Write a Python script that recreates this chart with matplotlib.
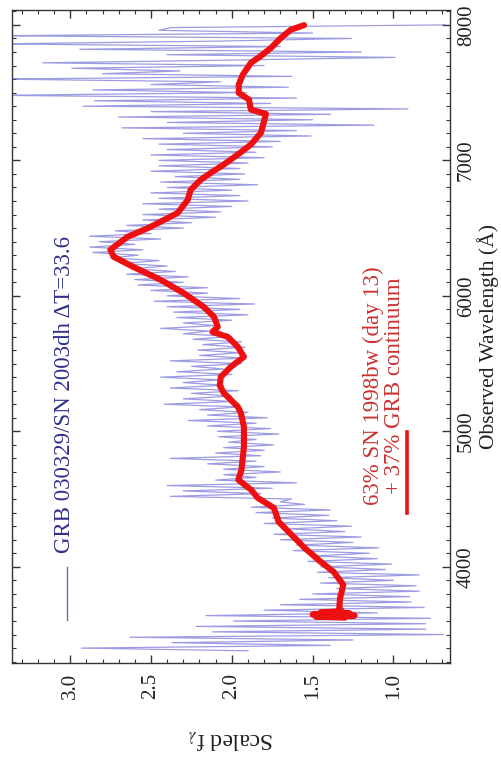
import numpy as np
import matplotlib
matplotlib.use("Agg")
import matplotlib.pyplot as plt
from matplotlib.ticker import MultipleLocator

plt.rcParams['font.family'] = ['Liberation Serif', 'DejaVu Serif']
plt.rcParams['mathtext.fontset'] = 'stix'

# Observed spectrum of GRB 030329 / SN 2003dh (20 A sampling)
obs_wave = np.arange(3380, 8001, 20)
obs_flux = [
    1.90, 2.93, 1.39, 2.37, 1.25, 2.63, 0.69, 2.12, 0.80, 2.22,
    0.80, 1.99, 0.77, 2.16, 1.10, 1.80, 0.81, 1.70, 0.89, 1.58,
    0.90, 1.50, 0.84, 1.35, 0.86, 1.45, 1.00, 1.40, 0.84, 1.47,
    1.05, 1.45, 1.01, 1.53, 1.10, 1.50, 1.15, 1.62, 1.09, 1.60,
    1.25, 1.70, 1.20, 1.74, 1.30, 1.65, 1.26, 1.80, 1.35, 1.75,
    1.40, 1.85, 1.39, 1.88, 1.55, 1.70, 1.63, 2.38, 1.82, 2.30,
    1.75, 2.40, 1.60, 2.10, 1.85, 2.05, 1.70, 2.05, 1.80, 2.15,
    1.85, 2.38, 1.82, 2.10, 1.80, 2.05, 1.74, 2.02, 1.85, 2.08,
    1.71, 2.09, 1.76, 2.15, 1.85, 2.27, 1.78, 2.15, 1.90, 2.20,
    1.95, 2.42, 1.99, 2.30, 2.00, 2.25, 1.96, 2.38, 2.05, 2.30,
    2.07, 2.44, 2.00, 2.34, 2.05, 2.25, 1.94, 2.38, 1.92, 2.20,
    1.95, 2.21, 1.92, 2.18, 1.94, 2.24, 2.00, 2.30, 2.14, 2.44,
    2.10, 2.30, 2.00, 2.34, 1.90, 2.36, 1.95, 2.40, 1.86, 2.48,
    1.95, 2.40, 2.15, 2.50, 2.15, 2.58, 2.30, 2.60, 2.27, 2.65,
    2.35, 2.62, 2.40, 2.69, 2.45, 2.75, 2.58, 2.86, 2.55, 2.88,
    2.60, 2.82, 2.44, 2.88, 2.50, 2.72, 2.30, 2.65, 2.25, 2.55,
    2.10, 2.55, 2.07, 2.45, 2.00, 2.55, 1.90, 2.45, 1.95, 2.50,
    2.00, 2.40, 1.84, 2.44, 1.95, 2.35, 1.92, 2.50, 1.95, 2.45,
    1.90, 2.45, 1.80, 2.50, 1.85, 2.40, 1.75, 2.45, 1.70, 2.55,
    1.51, 2.30, 1.60, 2.68, 1.12, 2.40, 1.50, 2.70, 1.39, 2.50,
    0.91, 2.92, 1.76, 2.85, 1.60, 3.45, 1.91, 2.86, 1.65, 2.50,
    2.07, 3.45, 1.63, 2.80, 2.32, 2.99, 1.80, 3.17, 2.01, 0.99,
    2.40, 1.20, 2.94, 1.70, 3.45, 2.10, 1.26, 3.45, 1.50, 2.45,
    2.38, 0.68,
]

# Model: 63% SN 1998bw (day 13) + 37% GRB continuum
model_wave = [3625, 3632, 3640, 3648, 3656, 3664, 3672, 3700, 3771, 3867,
              3963, 4037, 4140, 4236, 4332, 4435, 4509, 4568, 4642, 4716,
              4886, 5033, 5137, 5181, 5232, 5284, 5340, 5402, 5476, 5550,
              5624, 5697, 5734, 5771, 5845, 5919, 6022, 6118, 6214, 6288,
              6340, 6435, 6509, 6612, 6708, 6782, 6856, 6908, 6969, 7043,
              7117, 7203, 7291, 7343, 7375, 7449, 7498, 7559, 7633, 7720,
              7771, 7830, 7904, 7965, 7998]
model_flux = [1.30, 1.48, 1.24, 1.50, 1.27, 1.45, 1.32, 1.335, 1.33, 1.31,
              1.37, 1.45, 1.55, 1.63, 1.71, 1.74, 1.84, 1.88, 1.96, 1.94,
              1.925, 1.925, 1.944, 1.963, 2.006, 2.05, 2.075, 2.068, 2.006, 1.925,
              1.963, 2.025, 2.12, 2.087, 2.11, 2.174, 2.30, 2.44, 2.61, 2.73,
              2.752, 2.646, 2.503, 2.335, 2.273, 2.255, 2.193, 2.13, 2.05, 1.963,
              1.882, 1.82, 1.80, 1.789, 1.882, 1.894, 1.957, 1.957, 1.932, 1.882,
              1.82, 1.758, 1.696, 1.634, 1.553]

flux_ticks = [1.0, 1.5, 2.0, 2.5, 3.0]
wave_ticks = [4000, 5000, 6000, 7000, 8000]

fig = plt.figure(figsize=(5.02, 7.62), dpi=100)
ax = fig.add_axes([12 / 502, 1 - 663 / 762, 438 / 502, 653 / 762])

ax.plot(obs_flux, obs_wave, color='#5a5ad0', lw=0.9, alpha=0.6)
ax.plot(model_flux, model_wave, color='#ee1010', lw=4.4,
        solid_joinstyle='round', solid_capstyle='round')

ax.set_xlim(3.36, 0.65)
ax.set_ylim(3290, 8110)

ax.set_xticks(flux_ticks)
ax.set_xticklabels([f'{v:.1f}' for v in flux_ticks])
ax.xaxis.set_minor_locator(MultipleLocator(0.1))
ax.set_yticks(wave_ticks)
ax.yaxis.set_minor_locator(MultipleLocator(100))

ax.tick_params(which='both', direction='in', top=True, bottom=True,
               left=True, right=True, colors='#333333', labelcolor='#222222')
ax.tick_params(which='major', length=6, width=1.0)
ax.tick_params(which='minor', length=3, width=0.8)
ax.tick_params(axis='x', labelsize=15, labelrotation=90, pad=7)
ax.tick_params(axis='y', labelsize=15, labelrotation=90, pad=5,
               labelleft=False, labelright=True)
for lab in ax.get_yticklabels():
    lab.set_va('center')

for sp in ax.spines.values():
    sp.set_color('#333333')
    sp.set_linewidth(1.0)

ax.set_xlabel('Scaled f$_{\\lambda}$', fontsize=17, rotation=180,
              color='#222222', labelpad=20)
ax.yaxis.set_label_position('right')
ax.set_ylabel('Observed Wavelength (Å)', fontsize=15.5, rotation=90,
              color='#222222', labelpad=1)

# legend entries, written along the wavelength axis
ax.plot([0.1256, 0.1256], [0.066, 0.147], transform=ax.transAxes,
        color='#7070a8', lw=1.0)
ax.text(0.121, 0.168, 'GRB 030329/SN 2003dh ΔT=33.6', transform=ax.transAxes,
        rotation=90, ha='center', va='bottom', fontsize=16.5, color='#2e2e8e')

ax.plot([0.902, 0.902], [0.230, 0.354], transform=ax.transAxes,
        color='#ee1010', lw=2.6)
ax.text(0.848, 0.424, '63% SN 1998bw (day 13)\n+ 37% GRB continuum',
        transform=ax.transAxes, rotation=90, ha='center', va='center',
        multialignment='center', fontsize=16.5, color='#cc3030',
        linespacing=1.0)

fig.savefig('out.png', dpi=100)
